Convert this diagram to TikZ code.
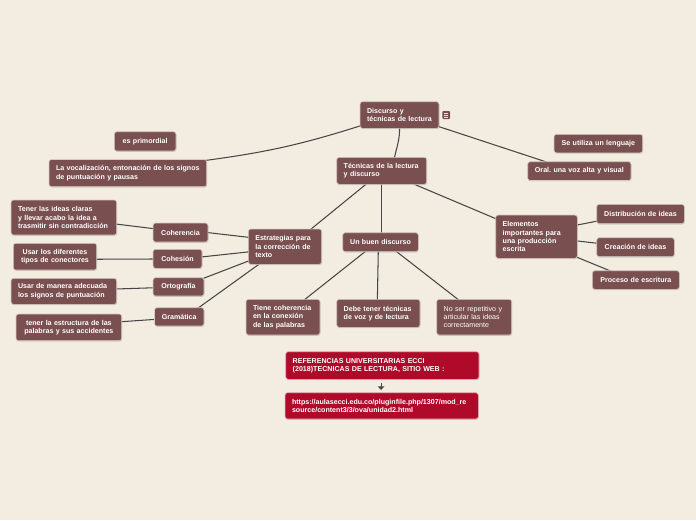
\documentclass[tikz,border=0pt]{standalone}
\usepackage{fontspec}
\setmainfont{Liberation Sans}
\usetikzlibrary{shadows,arrows.meta}
\frenchspacing
\definecolor{bgc}{RGB}{243,237,225}
\definecolor{brn}{RGB}{122,79,79}
\definecolor{redc}{RGB}{176,10,42}
\definecolor{edg}{RGB}{70,70,70}
\pgfdeclarelayer{bgrect}
\pgfdeclarelayer{edges}
\pgfsetlayers{bgrect,edges,main}
\newcommand\mbx[7][]{%
 \pgfmathsetmacro\mbxcx{(#3+#5)/2}%
 \pgfmathsetmacro\mbxcy{(#4+#6)/2}%
 \pgfmathsetmacro\mbxw{#5-#3}%
 \pgfmathsetmacro\mbxh{#6-#4}%
 \pgfmathsetmacro\mbxtw{#5-#3-14}%
 \node[box,minimum width=\mbxw pt,minimum height=\mbxh pt,text width=\mbxtw pt,#1] (#2) at (\mbxcx,\mbxcy) {#7};}
\tikzset{
 box/.style={rectangle, rounded corners=2.5pt, fill=brn, draw=white!70!brn, line width=0.6pt,
   text=white, font=\fontsize{7.1}{8.3}\selectfont\bfseries, inner xsep=7pt, inner ysep=1pt,
   align=left, outer sep=0pt,
   drop shadow={opacity=0.3, shadow xshift=0.4pt, shadow yshift=-0.9pt}},
 ctr/.style={align=center},
 regular/.style={font=\fontsize{7.1}{8.3}\selectfont},
 redbox/.style={fill=redc, draw=white!70!redc},
 edge/.style={draw=edg, line width=1.05pt}
}
\begin{document}
\begin{tikzpicture}[x=1pt,y=-1pt]
\begin{pgfonlayer}{bgrect}
\fill[bgc] (0,0) rectangle (696,520);
\end{pgfonlayer}
\useasboundingbox (0,0) rectangle (696,520);

\mbx{disc}{360}{101.7}{439}{128.3}{Discurso y\\técnicas de lectura}
\mbx[ctr]{prim}{114.3}{131.7}{176}{151}{es primordial}
\mbx{vocal}{49}{159.5}{206.7}{186.7}{La vocalización, entonación de los signos\\de puntuación y pausas}
\mbx{tec}{336.7}{157.3}{426.7}{184.3}{Técnicas de la lectura\\y discurso}
\mbx[ctr]{util}{554}{134.3}{642.7}{152.8}{Se utiliza un lenguaje}
\mbx[ctr]{oral}{527.7}{161.7}{631}{180.5}{Oral. una voz alta y visual}
\mbx{tener}{11}{200}{116.7}{235}{Tener las ideas claras\\y llevar acabo la idea a\\trasmitir sin contradicción}
\mbx[ctr]{coher}{153}{223}{208}{242}{Coherencia}
\mbx[ctr]{usarlos}{13.3}{243.3}{96.7}{270}{Usar los diferentes\\tipos de conectores}
\mbx[ctr]{cohes}{153}{249.3}{202}{268.3}{Cohesión}
\mbx{usarman}{11}{278.3}{116.7}{304.3}{Usar de manera adecuada\\los signos de puntuación}
\mbx[ctr]{orto}{153}{277.7}{204}{296}{Ortografía}
\mbx[ctr]{tenerla}{16}{314}{121.7}{340.7}{tener la estructura de las\\palabras y sus accidentes}
\mbx[ctr]{grama}{154.5}{307.7}{204}{326}{Gramática}
\mbx{estr}{248.3}{229}{321.7}{264.3}{Estrategias para\\la corrección de\\texto}
\mbx[ctr]{buen}{342.7}{232.7}{418.3}{251.7}{Un buen discurso}
\mbx{tiene}{246}{299.3}{320}{335}{Tiene coherencia\\en la conexión\\de las palabras}
\mbx{debe}{336.7}{299.3}{420}{327.3}{Debe tener técnicas\\de voz y de lectura}
\mbx[regular]{noser}{436.7}{299.3}{511.7}{335}{No ser repetitivo y\\articular las ideas\\correctamente}
\mbx{elem}{495.7}{215}{577.3}{258.3}{Elementos\\importantes para\\una producción\\escrita}
\mbx[ctr]{distr}{596.7}{204.3}{684.3}{223.7}{Distribución de ideas}
\mbx[ctr]{crea}{596.7}{237.7}{674.3}{256.7}{Creación de ideas}
\mbx[ctr]{proc}{592.3}{270.7}{679.3}{289.3}{Proceso de escritura}
\mbx[redbox]{ref}{285.7}{351.7}{479}{379.3}{REFERENCIAS UNIVERSITARIAS ECCI\\(2018)TECNICAS DE LECTURA, SITIO WEB :}
\mbx[redbox]{url}{285}{392.7}{478.3}{419}{https://aulasecci.edu.co/pluginfile.php/1307/mod\_re\\source/content3/3/ova/unidad2.html}

% note icon
\fill[brn, rounded corners=1pt] (442.3,111) rectangle (450,119);
\draw[white!85!brn, line width=0.6pt] (443.9,113.2) -- (448.4,113.2) (443.9,115) -- (448.4,115) (443.9,116.8) -- (448.4,116.8);

\begin{pgfonlayer}{edges}
\draw[edge] ([shift={(2,-3)}]disc.south west) to[bend left=5] ([shift={(-1.7,1)}]vocal.north east);
\draw[edge] ([shift={(0,-1)}]disc.south) to[out=-88,in=78] ([shift={(12.6,1)}]tec.north);
\draw[edge] ([shift={(-2,-2.3)}]disc.south east) -- ([shift={(20.3,0.8)}]oral.north west);
\draw[edge] ([shift={(31.7,-2)}]tec.south west) -- ([shift={(-11.2,0.5)}]estr.north east);
\draw[edge] ([shift={(0,-1)}]tec.south) -- ([shift={(1.2,1)}]buen.north);
\draw[edge] ([shift={(-14.7,-1)}]tec.south east) -- ([shift={(1.8,4.4)}]elem.north west);
\draw[edge] ([shift={(1,8.4)}]estr.north west) -- ([shift={(-1,0)}]coher.east);
\draw[edge] ([shift={(1,22.8)}]estr.north west) -- ([shift={(-1,-1.8)}]cohes.east);
\draw[edge] ([shift={(1,-3.6)}]estr.south west) -- ([shift={(-1.5,1)}]orto.north east);
\draw[edge] ([shift={(12,-1)}]estr.south west) -- ([shift={(-6.8,1)}]grama.north east);
\draw[edge] ([shift={(1,-3.8)}]coher.west) -- ([shift={(-1,6.5)}]tener.east);
\draw[edge] ([shift={(1,0.2)}]cohes.west) -- ([shift={(-1,2.6)}]usarlos.east);
\draw[edge] ([shift={(1,0.9)}]orto.west) -- ([shift={(-1,-2.3)}]usarman.east);
\draw[edge] ([shift={(1,2.5)}]grama.west) -- ([shift={(-1,-5.6)}]tenerla.east);
\draw[edge] ([shift={(23.6,-1)}]buen.south west) -- ([shift={(21,0.8)}]tiene.north);
\draw[edge] ([shift={(-2.2,-1)}]buen.south) -- ([shift={(-1,1)}]debe.north);
\draw[edge] ([shift={(-22.9,-1)}]buen.south east) -- ([shift={(22.4,1)}]noser.north west);
\draw[edge] ([shift={(-1,10.2)}]elem.north east) -- ([shift={(1,7)}]distr.west);
\draw[edge] ([shift={(-1,4.2)}]elem.east) -- ([shift={(1,-3.9)}]crea.west);
\draw[edge] ([shift={(-1.5,-1.5)}]elem.south east) -- ([shift={(18.7,0.5)}]proc.north west);
\end{pgfonlayer}
\draw[draw=edg, line width=1pt, -{Triangle[width=6.5pt,length=3.5pt]}] ([shift={(-1.3,3.2)}]ref.south) -- ([shift={(-0.6,-2.8)}]url.north);
\end{tikzpicture}
\end{document}
